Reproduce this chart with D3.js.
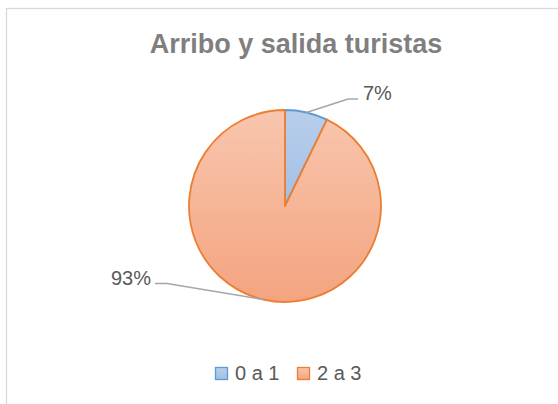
<!DOCTYPE html>
<html>
<head>
<meta charset="utf-8">
<script src="https://cdn.jsdelivr.net/npm/d3@7"></script>
<style>
  html, body { margin: 0; padding: 0; background: #fff; }
  svg { display: block; }
  text { font-family: "Liberation Sans", Arial, sans-serif; }
</style>
</head>
<body>
<svg id="chart" width="558" height="404"></svg>
<script>
// ---- data ----
const title = "Arribo y salida turistas";
const categories = ["0 a 1", "2 a 3"];
const values = [7.2, 92.8];
const strokeColors = ["#5b9bd5", "#ed7d31"];
const gradTop = ["#b8cfeb", "#f8c6ae"];
const gradBottom = ["#a3bfe4", "#f4a47f"];

// ---- layout ----
const W = 558, H = 404;
const cx = 285, cy = 206, R = 96;
// label elbow positions (offsets from centre) and horizontal tail lengths
const labelLayout = [
  { ex: 63, ey: -107, tail: 10, side: "right" },
  { ex: -118, ey: 77.5, tail: -12, side: "left" }
];

const svg = d3.select("#chart");

// frame (chart area border, cropped at right/bottom)
svg.append("rect")
  .attr("x", 6.5).attr("y", 8.5)
  .attr("width", 700).attr("height", 500)
  .attr("fill", "#fff")
  .attr("stroke", "#d9d9d9").attr("stroke-width", 1.3);

// gradients
const defs = svg.append("defs");
categories.forEach((c, i) => {
  const g = defs.append("linearGradient")
    .attr("id", "grad" + i)
    .attr("x1", 0).attr("y1", 0).attr("x2", 0).attr("y2", 1);
  g.append("stop").attr("offset", "0%").attr("stop-color", gradTop[i]);
  g.append("stop").attr("offset", "100%").attr("stop-color", gradBottom[i]);
});

// title
svg.append("text")
  .attr("x", 296).attr("y", 53)
  .attr("text-anchor", "middle")
  .attr("font-size", 27).attr("font-weight", "bold")
  .attr("fill", "#7f7f7f")
  .text(title);

// pie
const data = categories.map((c, i) => ({ cat: c, value: values[i], i }));
const pie = d3.pie().value(d => d.value).sort(null);
const arcs = pie(data);
const arc = d3.arc().innerRadius(0).outerRadius(R);
const total = d3.sum(values);

const g = svg.append("g").attr("transform", `translate(${cx},${cy})`);
g.selectAll("path.slice")
  .data(arcs)
  .join("path")
  .attr("class", "slice")
  .attr("d", arc)
  .attr("fill", d => `url(#grad${d.data.i})`)
  .attr("stroke", d => strokeColors[d.data.i])
  .attr("stroke-width", 1.8)
  .attr("stroke-linejoin", "round");

// leader lines + labels
arcs.forEach((a, k) => {
  const mid = (a.startAngle + a.endAngle) / 2;
  const px = Math.sin(mid) * R, py = -Math.cos(mid) * R;
  const L = labelLayout[k];
  const tx = L.ex + L.tail;
  g.append("polyline")
    .attr("points", `${px},${py} ${L.ex},${L.ey} ${tx},${L.ey}`)
    .attr("fill", "none")
    .attr("stroke", "#a6a6a6")
    .attr("stroke-width", 1.5);
  const pct = Math.round(a.data.value / total * 100) + "%";
  g.append("text")
    .attr("x", L.side === "right" ? tx + 5 : tx - 4)
    .attr("y", L.ey + 1)
    .attr("text-anchor", L.side === "right" ? "start" : "end")
    .attr("font-size", 20)
    .attr("fill", "#595959")
    .text(pct);
});

// legend
const legendX = [215, 297];
const lg = svg.append("g");
categories.forEach((c, i) => {
  lg.append("rect")
    .attr("x", legendX[i] + 0.5).attr("y", 367.5)
    .attr("width", 12).attr("height", 12)
    .attr("fill", `url(#grad${i})`)
    .attr("stroke", strokeColors[i])
    .attr("stroke-width", 1.3);
  lg.append("text")
    .attr("x", legendX[i] + 20).attr("y", 380)
    .attr("font-size", 20)
    .attr("fill", "#595959")
    .text(c);
});
</script>
</body>
</html>
